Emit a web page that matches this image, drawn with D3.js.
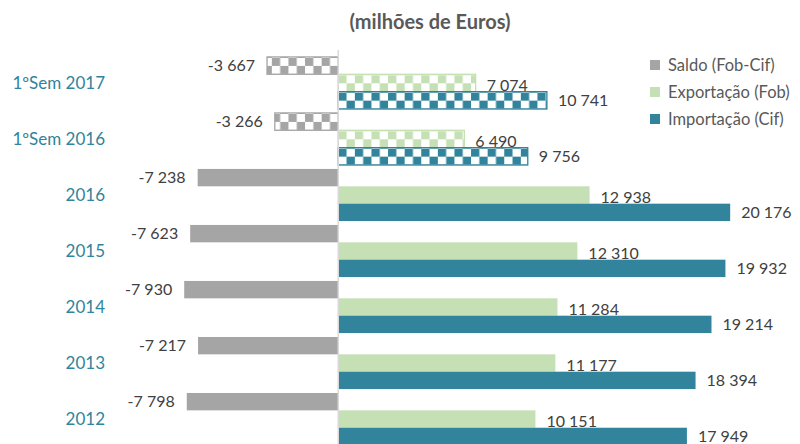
<!DOCTYPE html>
<html>
<head>
<meta charset="utf-8">
<title>Balança comercial</title>
<script src="https://cdnjs.cloudflare.com/ajax/libs/d3/7.8.5/d3.min.js"></script>
<style>
  body { margin: 0; background: #fff; }
  svg { display: block; font-family: Lato, "Open Sans", sans-serif; }
</style>
</head>
<body>
<div id="chart"></div>
<script>
// categorias (de cima para baixo)
var categories = ["1ºSem 2017", "1ºSem 2016", "2016", "2015", "2014", "2013", "2012"];
var hatched = ["1ºSem 2017", "1ºSem 2016"];

var series = ["Saldo (Fob-Cif)", "Exportação (Fob)", "Importação (Cif)"];
var saldo      = [-3667, -3266, -7238, -7623, -7930, -7217, -7798];
var exportacao = [7074, 6490, 12938, 12310, 11284, 11177, 10151];
var importacao = [10741, 9756, 20176, 19932, 19214, 18394, 17949];

var colors = ["#a5a5a5", "#c5e0b4", "#31849b"];

var W = 800, H = 444;

var svg = d3.select("#chart").append("svg")
  .attr("width", W)
  .attr("height", H);

var x = d3.scaleLinear()
  .domain([-10000, 22000])
  .range([144, 765.6]);

var y = d3.scaleBand()
  .domain(categories)
  .range([53, 449])
  .padding(0.07);

var ySub = d3.scaleBand()
  .domain(d3.range(series.length))
  .range([0, y.bandwidth()]);

var fmt = d3.formatLocale({ decimal: ",", thousands: " ", grouping: [3], currency: ["", "€"], minus: "-" }).format(",d");

var values = [saldo, exportacao, importacao];

// padroes xadrez (um por barra, alinhado ao topo da barra)
var defs = svg.append("defs");
var sqw = 8.3, sqh = 8;
function checker(id, c, top){
  var p = defs.append("pattern")
    .attr("id", id)
    .attr("patternUnits", "userSpaceOnUse")
    .attr("x", x(0))
    .attr("y", top + 1)
    .attr("width", sqw * 2)
    .attr("height", sqh * 2);
  p.append("rect").attr("width", sqw * 2).attr("height", sqh * 2).attr("fill", "#fff");
  p.append("rect").attr("width", sqw).attr("height", sqh).attr("fill", c);
  p.append("rect").attr("x", sqw).attr("y", sqh).attr("width", sqw).attr("height", sqh).attr("fill", c);
}

// titulo
svg.append("text")
  .attr("x", 430)
  .attr("y", 29)
  .attr("text-anchor", "middle")
  .attr("font-size", 20)
  .attr("font-weight", "bold")
  .attr("fill", "#595959")
  .text("(milhões de Euros)");

// barras
values.forEach(function(vals, s){
  var g = svg.append("g");
  g.selectAll("rect")
    .data(vals)
    .enter()
    .append("rect")
    .attr("x", function(d){ return x(Math.min(0, d)); })
    .attr("y", function(d, i){ return y(categories[i]) + ySub(s); })
    .attr("width", function(d){ return Math.abs(x(d) - x(0)); })
    .attr("height", ySub.bandwidth())
    .attr("fill", function(d, i){
      if (hatched.indexOf(categories[i]) < 0) return colors[s];
      var id = "chk" + s + "_" + i;
      checker(id, colors[s], y(categories[i]) + ySub(s));
      return "url(#" + id + ")";
    })
    .attr("stroke", function(d, i){
      return hatched.indexOf(categories[i]) >= 0 ? colors[s] : "none";
    })
    .attr("stroke-width", 1.3);

  g.selectAll("text")
    .data(vals)
    .enter()
    .append("text")
    .attr("x", function(d){ return d < 0 ? x(d) - 12 : x(d) + 11; })
    .attr("y", function(d, i){ return y(categories[i]) + ySub(s) + ySub.bandwidth() / 2 + (s == 1 ? 2 : 0); })
    .attr("dy", "0.35em")
    .attr("text-anchor", function(d){ return d < 0 ? "end" : "start"; })
    .attr("font-size", 16)
    .attr("fill", "#404040")
    .text(function(d){ return fmt(d); });
});

// eixo vertical no zero
svg.append("line")
  .attr("x1", x(0)).attr("x2", x(0))
  .attr("y1", 50).attr("y2", H)
  .attr("stroke", "#d9d9d9")
  .attr("stroke-width", 1.5);

// rotulos das categorias
svg.append("g").selectAll("text")
  .data(categories)
  .enter()
  .append("text")
  .attr("x", 105)
  .attr("y", function(d){ return y(d) + y.bandwidth() / 2; })
  .attr("dy", "0.35em")
  .attr("text-anchor", "end")
  .attr("font-size", 17)
  .attr("fill", "#31849b")
  .text(function(d){ return d; });

// legenda
var leg = svg.append("g").selectAll("g")
  .data(series)
  .enter()
  .append("g")
  .attr("transform", function(d, i){ return "translate(650," + (65 + i * 27) + ")"; });
leg.append("rect")
  .attr("x", 0).attr("y", -5)
  .attr("width", 10).attr("height", 10)
  .attr("fill", function(d, i){ return colors[i]; });
leg.append("text")
  .attr("x", 18)
  .attr("dy", "0.35em")
  .attr("font-size", 16.5)
  .attr("fill", "#595959")
  .text(function(d){ return d; });
</script>
</body>
</html>
